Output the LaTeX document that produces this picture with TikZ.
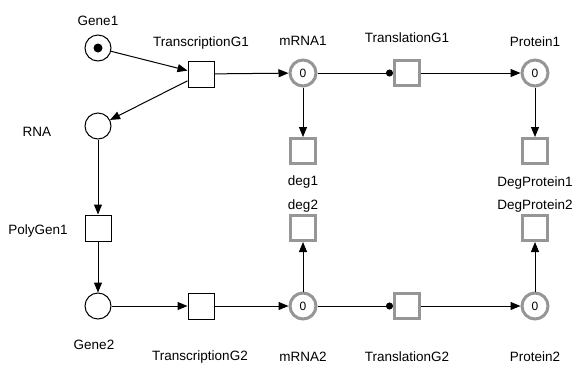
\documentclass[tikz,border=0pt]{standalone}
\usepackage{fontspec}
\setmainfont{Liberation Sans}
\usetikzlibrary{arrows.meta}
\definecolor{pgray}{RGB}{150,150,150}
\tikzset{
  bplace/.style={circle,draw,line width=1pt,minimum size=26pt,inner sep=0pt},
  gplace/.style={circle,draw=pgray,line width=3pt,minimum size=26pt,inner sep=0pt,font=\fontsize{12}{13}\selectfont},
  btrans/.style={rectangle,draw,line width=1pt,minimum size=26pt,inner sep=0pt},
  gtrans/.style={rectangle,draw=pgray,line width=3pt,minimum size=25pt,inner sep=0pt},
  lbl/.style={inner sep=0pt,font=\fontsize{13.5}{15}\selectfont},
  arc/.style={line width=1pt,-{Triangle[length=10pt,width=8pt]}},
  readarc/.style={line width=1pt,-{Circle[length=7pt]}},
  token/.style={circle,fill,minimum size=9pt,inner sep=0pt}
}
\begin{document}
\begin{tikzpicture}[x=1pt,y=-1pt]
\useasboundingbox (0,0) rectangle (573,365);
% places
\node[bplace] (gene1) at (98,48) {};
\node[token] (tok) at (98,48) {};
\node[bplace] (rna) at (98,126) {};
\node[bplace] (gene2) at (98,306) {};
\node[gplace] (mrna1) at (303,73) {0};
\node[gplace] (protein1) at (535,73) {0};
\node[gplace] (mrna2) at (303,306) {0};
\node[gplace] (protein2) at (535,306) {0};
% transitions
\node[btrans] (tg1) at (201,74) {};
\node[btrans] (poly) at (98,228) {};
\node[btrans] (tg2) at (201,306) {};
\node[gtrans] (tl1) at (407,73) {};
\node[gtrans] (tl2) at (407,306) {};
\node[gtrans] (deg1) at (303,151) {};
\node[gtrans] (degp1) at (535,151) {};
\node[gtrans] (deg2) at (303,228) {};
\node[gtrans] (degp2) at (535,228) {};
% labels
\node[lbl] (lgene1) at (98,21) {Gene1};
\node[lbl] (ltg1) at (201,43) {TranscriptionG1};
\node[lbl] (lmrna1) at (303,41) {mRNA1};
\node[lbl] (ltl1) at (407,38) {TranslationG1};
\node[lbl] (lprot1) at (535,42) {Protein1};
\node[lbl] (lrna) at (37,132) {RNA};
\node[lbl] (ldeg1) at (303,182) {deg1};
\node[lbl] (ldegp1) at (535,183) {DegProtein1};
\node[lbl] (ldeg2) at (303,206) {deg2};
\node[lbl] (ldegp2) at (535,206) {DegProtein2};
\node[lbl] (lpoly) at (38,231) {PolyGen1};
\node[lbl] (lgene2) at (94,345) {Gene2};
\node[lbl] (ltg2) at (200,357) {TranscriptionG2};
\node[lbl] (lmrna2) at (303,357) {mRNA2};
\node[lbl] (ltl2) at (407,357) {TranslationG2};
\node[lbl] (lprot2) at (535,357) {Protein2};
% arcs
\draw[arc] (gene1) -- (tg1);
\draw[arc] (tg1) -- (rna);
\draw[arc] (tg1) -- (mrna1);
\draw[readarc] (mrna1) -- (tl1);
\draw[arc] (tl1) -- (protein1);
\draw[arc] (mrna1) -- (deg1);
\draw[arc] (protein1) -- (degp1);
\draw[arc] (rna) -- (poly);
\draw[arc] (poly) -- (gene2);
\draw[arc] (gene2) -- (tg2);
\draw[arc] (tg2) -- (mrna2);
\draw[arc] (mrna2) -- (deg2);
\draw[readarc] (mrna2) -- (tl2);
\draw[arc] (tl2) -- (protein2);
\draw[arc] (protein2) -- (degp2);
\end{tikzpicture}
\end{document}
